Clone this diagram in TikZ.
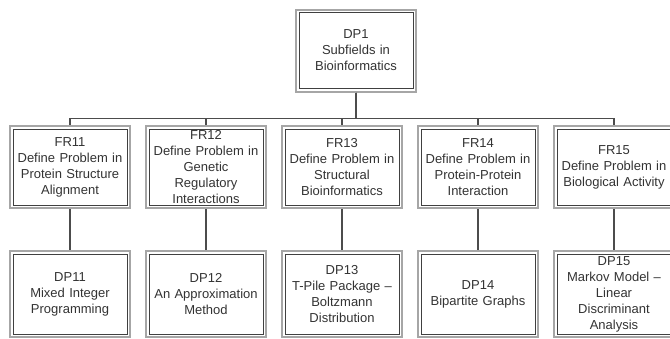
\documentclass[tikz,border=0pt]{standalone}
\usepackage{fontspec}
\setmainfont{Liberation Sans}
\usepackage{tikz}

\begin{document}
\begin{tikzpicture}[x=1pt,y=-1pt,
		box/.style={draw=gray!70,line width=2pt,fill=white,minimum width=120pt,
			text width=118pt,align=center,text=black!80,inner sep=0pt,
			font=\fontsize{13}{16}\selectfont,
			path picture={\draw[black!75,line width=0.9pt]
				([shift={(3pt,-3pt)}]path picture bounding box.north west) rectangle
				([shift={(-3pt,3pt)}]path picture bounding box.south east);}},
		link/.style={draw=black!70,line width=1.1pt}]
		\useasboundingbox (0,0) rectangle (670,338);
		\node[box,minimum height=82pt] (dp1) at (356,50.5) {DP1\\Subfields in\\Bioinformatics};
		\foreach \i/\x/\frtext/\dptext in {
			11/70/{FR11\\Define Problem in\\Protein Structure\\Alignment}/{DP11\\Mixed Integer\\Programming},
			12/206/{FR12\\Define Problem in\\Genetic\\Regulatory\\Interactions}/{DP12\\An Approximation\\Method},
			13/342/{FR13\\Define Problem in\\Structural\\Bioinformatics}/{DP13\\T-Pile Package –\\Boltzmann\\Distribution},
			14/478/{FR14\\Define Problem in\\Protein-Protein\\Interaction}/{DP14\\Bipartite Graphs},
			15/614/{FR15\\Define Problem in\\Biological Activity}/{DP15\\Markov Model –\\Linear\\Discriminant\\Analysis}}{
			\node[box,minimum height=82pt] (fr\i) at (\x,167) {\frtext};
			\node[box,minimum height=86pt] (dp\i) at (\x,294) {\dptext};
			\draw[link] (dp1.south) -- ++(0,26) -| (fr\i.north);
			\draw[link] (fr\i) -- (dp\i);
		}
	\end{tikzpicture}
\end{document}
